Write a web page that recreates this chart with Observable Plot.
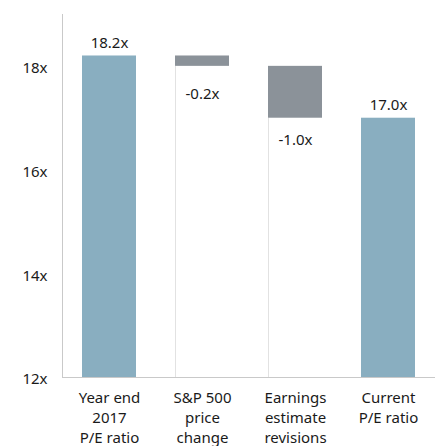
<!DOCTYPE html>
<html>
<head>
<meta charset="utf-8">
<script src="https://cdn.jsdelivr.net/npm/d3@7"></script>
<script src="https://cdn.jsdelivr.net/npm/@observablehq/plot@0.6"></script>
<style>
  html, body { margin: 0; padding: 0; background: #fff; }
  svg { display: block; }
</style>
</head>
<body>
<div id="chart"></div>
<script>
const categories = ["Year end\n2017\nP/E ratio", "S&P 500\nprice\nchange", "Earnings\nestimate\nrevisions", "Current\nP/E ratio"];
const values = [18.2, -0.2, -1.0, 17.0];
const kinds = ["total", "delta", "delta", "total"];
const valueLabels = ["18.2x", "-0.2x", "-1.0x", "17.0x"];
const yTicks = [12, 14, 16, 18];
const baseValue = 12;

let running = baseValue;
const rows = categories.map((c, i) => {
  let y1, y2;
  if (kinds[i] === "total") { y1 = baseValue; y2 = values[i]; running = values[i]; }
  else { y1 = running; y2 = running + values[i]; running = y2; }
  return {cat: c, kind: kinds[i], y1, y2, top: Math.max(y1, y2), bottom: Math.min(y1, y2), label: valueLabels[i], i};
});
const deltas = rows.filter(d => d.kind === "delta");

const chart = Plot.plot({
  width: 435,
  height: 446,
  marginLeft: 62,
  marginRight: 0,
  marginTop: 14,
  marginBottom: 69,
  style: {fontFamily: "'Noto Sans', sans-serif", fontSize: "15px", color: "#1a1a1a", background: "#fff"},
  x: {domain: categories, paddingInner: 0.42, paddingOuter: 0.21, label: null},
  y: {domain: [12, 19], label: null},
  marks: [
    Plot.barY(deltas, {x: "cat", y1: baseValue, y2: "bottom", fill: "#e2e2e2", insetRight: 53}),
    Plot.barY(rows, {x: "cat", y1: "y1", y2: "y2", fill: d => d.kind === "total" ? "#89aec0" : "#8b9299"}),
    Plot.ruleY([baseValue], {stroke: "#c9c9c9"}),
    Plot.frame({anchor: "left", stroke: "#c9c9c9"}),
    Plot.axisY({ticks: yTicks, tickFormat: d => d + "x", tickSize: 0, tickPadding: 15, fontSize: 15, fill: "#1a1a1a", dy: 2}),
    Plot.axisX({tickSize: 0, tickPadding: 11, fontSize: 15, lineHeight: 1.33, fill: "#1a1a1a"}),
    Plot.text(rows.filter(d => d.kind === "total"), {x: "cat", y: "top", text: "label", dy: -13, fontSize: 15, fill: "#1a1a1a"}),
    Plot.text(deltas.filter(d => d.i === 1), {x: "cat", y: "bottom", text: "label", dy: 28, fontSize: 15, fill: "#1a1a1a"}),
    Plot.text(deltas.filter(d => d.i === 2), {x: "cat", y: "bottom", text: "label", dy: 22, fontSize: 15, fill: "#1a1a1a"})
  ]
});
document.getElementById("chart").appendChild(chart);
</script>
</body>
</html>
